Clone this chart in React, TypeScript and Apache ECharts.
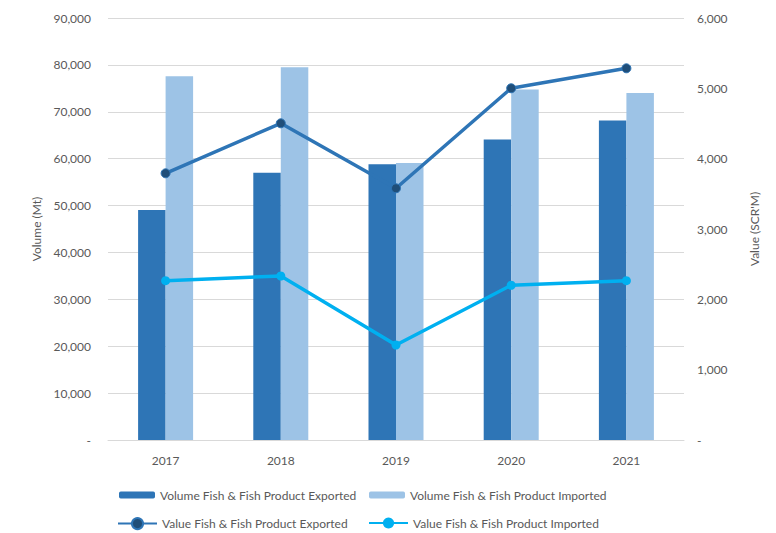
import React, { useEffect, useRef } from "react";
import * as echarts from "echarts";

const years = ["2017", "2018", "2019", "2020", "2021"];
const volumeExported = [49050, 57000, 58800, 64100, 68150];
const volumeImported = [77600, 79500, 59100, 74750, 74000];
const valueExported = [3792, 4503, 3579, 5001, 5285];
const valueImported = [2265, 2332, 1351, 2200, 2265];

const FONT = "Lato, 'Open Sans', sans-serif";
const TEXT = "#595959";

const fmt = (v: number) => (v === 0 ? "-" : v.toLocaleString("en-US"));

export default function App() {
  const ref = useRef<HTMLDivElement>(null);
  useEffect(() => {
    const chart = echarts.init(ref.current!, null, { renderer: "svg" });
    const legendBase = {
      orient: "horizontal",
      textStyle: { color: TEXT, fontSize: 12, fontFamily: FONT },
      padding: 0,
    };
    chart.setOption({
      animation: false,
      textStyle: { fontFamily: FONT },
      grid: { left: 108, right: 92, top: 18, bottom: 93 },
      legend: [
        { ...legendBase, left: 119, top: 489, itemWidth: 36, itemHeight: 7, data: ["Volume Fish & Fish Product Exported"] },
        { ...legendBase, left: 369, top: 489, itemWidth: 36, itemHeight: 7, data: ["Volume Fish & Fish Product Imported"] },
        { ...legendBase, left: 117, top: 517, itemWidth: 39, itemHeight: 14, data: ["Value Fish & Fish Product Exported"] },
        { ...legendBase, left: 368, top: 517, itemWidth: 39, itemHeight: 14, data: ["Value Fish & Fish Product Imported"] },
      ],
      xAxis: {
        type: "category",
        data: years,
        axisLine: { lineStyle: { color: "#d9d9d9" } },
        axisTick: { show: false },
        axisLabel: { color: TEXT, fontSize: 12, margin: 14, fontFamily: FONT },
      },
      yAxis: [
        {
          type: "value",
          min: 0,
          max: 90000,
          interval: 10000,
          name: "Volume (Mt)",
          nameLocation: "middle",
          nameGap: 65,
          nameTextStyle: { color: TEXT, fontSize: 12, fontFamily: FONT },
          axisLine: { show: false },
          axisTick: { show: false },
          axisLabel: { color: TEXT, fontSize: 12, margin: 17, formatter: fmt, fontFamily: FONT },
          splitLine: { lineStyle: { color: "#d9d9d9", width: 1 } },
        },
        {
          type: "value",
          min: 0,
          max: 6000,
          interval: 1000,
          name: "Value (SCR'M)",
          nameLocation: "middle",
          nameGap: 64,
          nameRotate: 90,
          nameTextStyle: { color: TEXT, fontSize: 12, fontFamily: FONT },
          axisLine: { show: false },
          axisTick: { show: false },
          axisLabel: { color: TEXT, fontSize: 12, margin: 13, formatter: fmt, fontFamily: FONT },
          splitLine: { show: false },
        },
      ],
      series: [
        {
          name: "Volume Fish & Fish Product Exported",
          type: "bar",
          data: volumeExported,
          barWidth: 27.5,
          barGap: "0%",
          itemStyle: { color: "#2E75B6" },
        },
        {
          name: "Volume Fish & Fish Product Imported",
          type: "bar",
          data: volumeImported,
          barWidth: 27.5,
          barGap: "0%",
          itemStyle: { color: "#9DC3E6" },
        },
        {
          name: "Value Fish & Fish Product Exported",
          type: "line",
          yAxisIndex: 1,
          data: valueExported,
          symbol: "circle",
          symbolSize: 9,
          lineStyle: { color: "#2E75B6", width: 3.5 },
          itemStyle: { color: "#1F4E79", borderColor: "#2E75B6", borderWidth: 1 },
        },
        {
          name: "Value Fish & Fish Product Imported",
          type: "line",
          yAxisIndex: 1,
          data: valueImported,
          symbol: "circle",
          symbolSize: 9,
          lineStyle: { color: "#00B0F0", width: 3.5 },
          itemStyle: { color: "#00B0F0" },
        },
      ],
    });
    return () => chart.dispose();
  }, []);
  return <div ref={ref} style={{ width: 776, height: 533, position: "absolute", left: 0, top: 0 }} />;
}
